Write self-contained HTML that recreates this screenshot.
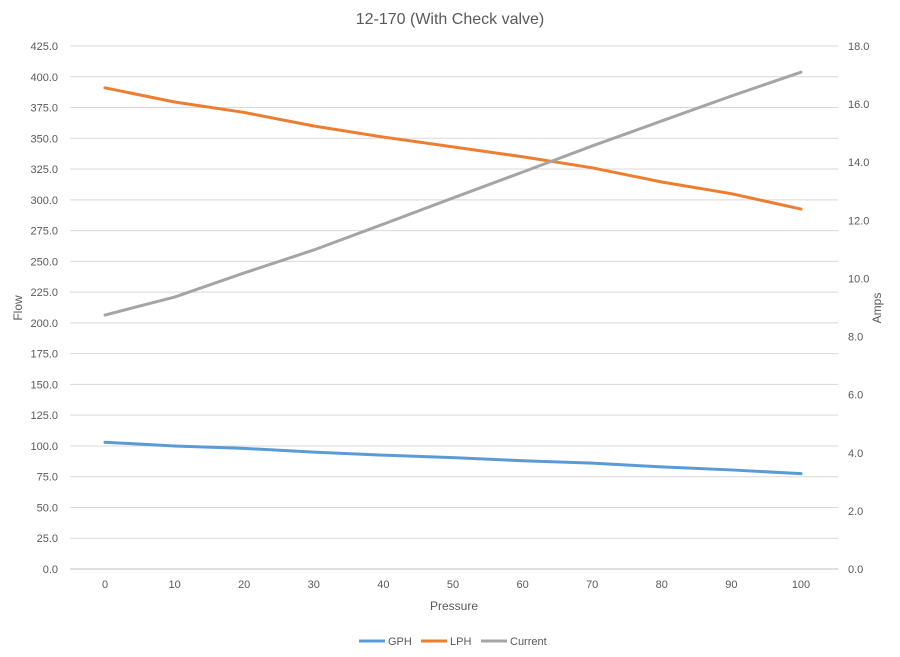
<!DOCTYPE html>
<html><head><meta charset="utf-8"><style>
html,body{margin:0;padding:0;background:#fff;}
svg{display:block;font-family:"Liberation Sans",sans-serif;}
</style></head><body>
<svg id="chart" width="900" height="657" viewBox="0 0 900 657">
<text x="450" y="24" text-anchor="middle" font-size="16" fill="#595959">12-170 (With Check valve)</text>
<g id="grid"></g><g id="axes"></g><g id="series"></g>
<text x="454" y="610" text-anchor="middle" font-size="12" fill="#595959">Pressure</text>
<text x="22" y="308" text-anchor="middle" font-size="12" fill="#595959" transform="rotate(-90 22 308)">Flow</text>
<text x="881" y="308" text-anchor="middle" font-size="12" fill="#595959" transform="rotate(-90 881 308)">Amps</text>
<g id="legend"></g>
</svg>
<script>
const categories=[0,10,20,30,40,50,60,70,80,90,100];
const gph=[103,100,98,95,92.5,90.5,88,86,83,80.5,77.5];
const lph=[391,379.5,371,360,351,343,335,326,314.5,305,292.5];
const current=[8.74,9.36,10.19,10.98,11.87,12.77,13.66,14.56,15.42,16.28,17.1];
const leftTicks=[0,25,50,75,100,125,150,175,200,225,250,275,300,325,350,375,400,425];
const rightTicks=[0,2,4,6,8,10,12,14,16,18];
const NS="http://www.w3.org/2000/svg";
const L=70,R=838,T=46,B=569;
const x=v=>105+(v-0)/100*(801-105);
const yL=v=>B-v/425*(B-T);
const yR=v=>B-v/18*(B-T);
function mk(tag,at,parent){const e=document.createElementNS(NS,tag);for(const k in at)e.setAttribute(k,at[k]);parent.appendChild(e);return e;}
const grid=document.getElementById('grid'),axes=document.getElementById('axes'),ser=document.getElementById('series'),leg=document.getElementById('legend');
leftTicks.forEach(t=>{const l=mk('line',{x1:L,x2:R,y1:yL(t),y2:yL(t),stroke:t===0?'#bfbfbf':'#d9d9d9','stroke-width':1},grid);


const tx=mk('text',{x:58,y:yL(t)+4,'text-anchor':'end','font-size':11,fill:'#595959'},axes);tx.textContent=t.toFixed(1);

});
rightTicks.forEach(t=>{const tx=mk('text',{x:848,y:yR(t)+4,'font-size':11,fill:'#595959'},axes);tx.textContent=t.toFixed(1);

});
categories.forEach(c=>{const tx=mk('text',{x:x(c),y:588,'text-anchor':'middle','font-size':11,fill:'#595959'},axes);tx.textContent=c;

});
function line(vals,yf,color,name){const p=vals.map((v,i)=>x(categories[i])+','+yf(v)).join(' ');
const pl=mk('polyline',{points:p,fill:'none',stroke:color,'stroke-width':3,'stroke-linejoin':'round','stroke-linecap':'round'},ser);

}
line(gph,yL,'#5B9BD5','gph-line');
line(lph,yL,'#ED7D31','lph-line');
line(current,yR,'#A5A5A5','current-line');
[['GPH','#5B9BD5',359],['LPH','#ED7D31',421],['Current','#A5A5A5',481]].forEach(([n,c,lx])=>{
const g=mk('g',{},leg);


mk('line',{x1:lx,x2:lx+26,y1:641,y2:641,stroke:c,'stroke-width':3},g);
const t=mk('text',{x:lx+29,y:645,'font-size':11,fill:'#595959'},g);t.textContent=n;});
</script>
</body></html>
